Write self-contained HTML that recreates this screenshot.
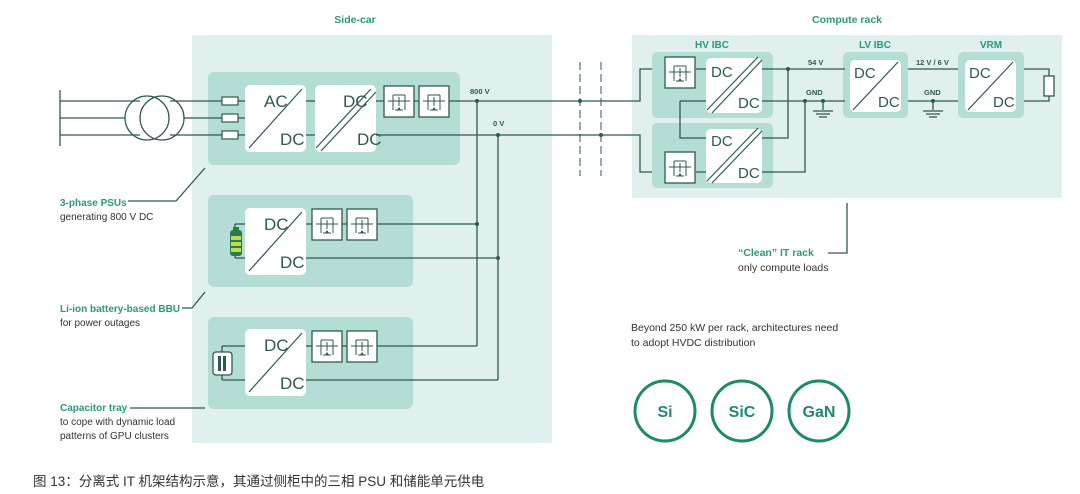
<!DOCTYPE html>
<html><head><meta charset="utf-8"><style>
body{margin:0;background:#fff;width:1080px;height:494px;overflow:hidden}
svg{display:block}
.t{font-family:"Liberation Sans",sans-serif}
</style></head><body>
<svg width="1080" height="494" viewBox="0 0 1080 494" xmlns="http://www.w3.org/2000/svg">
<defs>
<g id="sw"><rect x="0" y="0" width="30" height="31" fill="#fff" stroke="#2f5a4e" stroke-width="1.3"/>
<path d="M4 15H26M9 9V24M21 9V24M9 9H21M11 24H19M15 11V20" stroke="#2f5a4e" stroke-width="1" fill="none"/>
<path d="M13 24l2-3 2 3z" fill="#2f5a4e"/></g>
<g id="dc"><rect x="0" y="0" width="61" height="67" rx="5" fill="#fff"/></g>
</defs>
<g class="t">
<rect x="192" y="35" width="360" height="408" fill="#dff0ef"/>
<rect x="632" y="35" width="430" height="163" fill="#dff0ef"/>
<text x="355" y="23" fill="#2a9a7a" font-size="10.5" font-weight="bold" text-anchor="middle">Side-car</text>
<text x="847" y="23" fill="#2a9a7a" font-size="10.5" font-weight="bold" text-anchor="middle">Compute rack</text>
<rect x="208" y="72" width="252" height="93" rx="6" fill="#b4ddd6"/>
<rect x="208" y="195" width="205" height="92" rx="6" fill="#b4ddd6"/>
<rect x="208" y="317" width="205" height="92" rx="6" fill="#b4ddd6"/>
<g stroke="#2f5a4e" stroke-width="1.3" fill="none">
<path d="M60 90V146M60 101H140M60 118H125M60 135H140M170 101H245M184 118H245M170 135H245"/>
<circle cx="147" cy="118" r="22"/><circle cx="162" cy="118" r="22"/>
<path d="M306 101H315M306 135H315M376 101H384M414 101H419M449 101H640V69H665M376 135H640V172H665"/>
<path d="M477 101V346M498 135V380"/>
<path d="M306 224H312M342 224H347M377 224H477M306 258H498M235 224H245M235 258H245M235 224V228M235 256V258"/>
<path d="M306 346H312M342 346H347M377 346H477M306 380H498M222 346H245M222 380H245M222 346V352M222 375V380"/>
<path d="M128 201H176L205 168M182 308H192L205 292M130 408H205"/>
<path d="M847 203V253H828"/>
</g>
<g stroke="#2f5a4e" stroke-width="1" fill="none" stroke-dasharray="8,4">
<path d="M580 62V176M601 62V176"/>
</g>
<circle cx="477" cy="101" r="2" fill="#2f5a4e"/><circle cx="498" cy="135" r="2" fill="#2f5a4e"/>
<circle cx="477" cy="224" r="2" fill="#2f5a4e"/><circle cx="498" cy="258" r="2" fill="#2f5a4e"/>
<circle cx="580" cy="101" r="2" fill="#2f5a4e"/><circle cx="601" cy="135" r="2" fill="#2f5a4e"/>
<g fill="#fff" stroke="#2f5a4e" stroke-width="1.2">
<rect x="222" y="97" width="16" height="8"/><rect x="222" y="114" width="16" height="8"/><rect x="222" y="131" width="16" height="8"/>
</g>
<use href="#dc" x="245" y="85"/><use href="#dc" x="315" y="85"/>
<use href="#dc" x="245" y="208"/><use href="#dc" x="245" y="329"/>
<g stroke="#2f5a4e" stroke-width="1.2">
<path d="M249 148L302 89M249 271L302 212M249 392L302 333"/>
<path d="M316 148L371 89M321 151L376 92"/>
</g>
<g font-size="17" fill="#2f5a4e">
<text x="264" y="107">AC</text><text x="280" y="145">DC</text>
<text x="343" y="107">DC</text><text x="357" y="145">DC</text>
<text x="264" y="230">DC</text><text x="280" y="268">DC</text>
<text x="264" y="351">DC</text><text x="280" y="389">DC</text>
</g>
<use href="#sw" x="384" y="86"/><use href="#sw" x="419" y="86"/>
<use href="#sw" x="312" y="209"/><use href="#sw" x="347" y="209"/>
<use href="#sw" x="312" y="331"/><use href="#sw" x="347" y="331"/>
<rect x="230" y="230" width="12" height="26" rx="3" fill="#2a7a4e"/>
<rect x="233" y="227" width="6" height="4" fill="#2a7a4e"/>
<rect x="231" y="236" width="10" height="4" fill="#c4d94a"/><rect x="231" y="242" width="10" height="4" fill="#c4d94a"/><rect x="231" y="248" width="10" height="4" fill="#c4d94a"/>
<rect x="213" y="352" width="19" height="23" rx="3" fill="#fff" stroke="#2f5a4e" stroke-width="1.3"/>
<rect x="218" y="356" width="3" height="15" fill="#2f5a4e"/><rect x="223" y="356" width="3" height="15" fill="#2f5a4e"/>
<g font-size="7.5" font-weight="bold" fill="#2f5a4e"><text x="470" y="94">800 V</text><text x="493" y="126">0 V</text></g>
<text x="60" y="206" font-size="10" font-weight="bold" fill="#2a9a7a">3-phase PSUs</text>
<text x="60" y="220" font-size="10" fill="#333">generating 800 V DC</text>
<text x="60" y="312" font-size="10" font-weight="bold" fill="#2a9a7a">Li-ion battery-based BBU</text>
<text x="60" y="326" font-size="10" fill="#333">for power outages</text>
<text x="60" y="411" font-size="10" font-weight="bold" fill="#2a9a7a">Capacitor tray</text>
<text x="60" y="425" font-size="10" fill="#333">to cope with dynamic load</text>
<text x="60" y="439" font-size="10" fill="#333">patterns of GPU clusters</text>
<text x="712" y="48" font-size="10" font-weight="bold" fill="#2a9a7a" text-anchor="middle">HV IBC</text>
<text x="875" y="48" font-size="10" font-weight="bold" fill="#2a9a7a" text-anchor="middle">LV IBC</text>
<text x="991" y="48" font-size="10" font-weight="bold" fill="#2a9a7a" text-anchor="middle">VRM</text>
<rect x="652" y="52" width="121" height="66" rx="5" fill="#b4ddd6"/>
<rect x="652" y="123" width="121" height="65" rx="5" fill="#b4ddd6"/>
<rect x="843" y="52" width="65" height="66" rx="5" fill="#b4ddd6"/>
<rect x="958" y="52" width="66" height="66" rx="5" fill="#b4ddd6"/>
<g stroke="#2f5a4e" stroke-width="1.3" fill="none">
<path d="M696 69H706M696 172H706M680 101H706M680 101V138H706"/>
<path d="M762 69H845M762 101H845M762 138H788V69M762 172H805V101"/>
<path d="M908 69H958M908 101H958M1024 69H1049V76M1024 101H1049V96"/>
<path d="M823 101V110M813 111H833M816 114H830M819 117H827"/>
<path d="M933 101V110M923 111H943M926 114H940M929 117H937"/>
</g>
<circle cx="788" cy="69" r="2" fill="#2f5a4e"/><circle cx="805" cy="101" r="2" fill="#2f5a4e"/><circle cx="823" cy="101" r="2" fill="#2f5a4e"/><circle cx="933" cy="101" r="2" fill="#2f5a4e"/>
<rect x="1044" y="76" width="10" height="20" fill="#fff" stroke="#2f5a4e" stroke-width="1.3"/>
<rect x="706" y="58" width="56" height="55" rx="5" fill="#fff"/>
<rect x="706" y="129" width="56" height="54" rx="5" fill="#fff"/>
<rect x="850" y="60" width="51" height="52" rx="5" fill="#fff"/>
<rect x="965" y="60" width="51" height="52" rx="5" fill="#fff"/>
<g stroke="#2f5a4e" stroke-width="1.2">
<path d="M707 110L758 57M712 113L762 60M707 181L758 128M712 183L762 131M853 110L898 62M968 110L1013 62"/>
</g>
<g font-size="15" fill="#2f5a4e">
<text x="711" y="77">DC</text><text x="738" y="108">DC</text>
<text x="711" y="146">DC</text><text x="738" y="178">DC</text>
<text x="854" y="78">DC</text><text x="878" y="107">DC</text>
<text x="969" y="78">DC</text><text x="993" y="107">DC</text>
</g>
<use href="#sw" x="665" y="57"/><use href="#sw" x="665" y="152"/>
<g font-size="7.5" font-weight="bold" fill="#2f5a4e"><text x="808" y="65">54 V</text><text x="806" y="95">GND</text><text x="916" y="65">12 V / 6 V</text><text x="924" y="95">GND</text></g>
<text x="738" y="256" font-size="10.5" font-weight="bold" fill="#2a9a7a">“Clean” IT rack</text>
<text x="738" y="271" font-size="10.5" fill="#333">only compute loads</text>
<text x="631" y="331" font-size="10.5" fill="#333">Beyond 250 kW per rack, architectures need</text>
<text x="631" y="346" font-size="10.5" fill="#333">to adopt HVDC distribution</text>
<g fill="none" stroke="#1e8a6c" stroke-width="3"><circle cx="665" cy="411" r="30"/><circle cx="742" cy="411" r="30"/><circle cx="819" cy="411" r="30"/></g>
<g font-size="16" font-weight="bold" fill="#1e8a6c" text-anchor="middle"><text x="665" y="417">Si</text><text x="742" y="417">SiC</text><text x="819" y="417">GaN</text></g>
<text x="33" y="486" font-size="13.5" fill="#333" style='font-family:"Liberation Sans","Noto Sans CJK SC",sans-serif'>图 13：分离式 IT 机架结构示意，其通过侧柜中的三相 PSU 和储能单元供电</text>
</g>
</svg>
</body></html>
